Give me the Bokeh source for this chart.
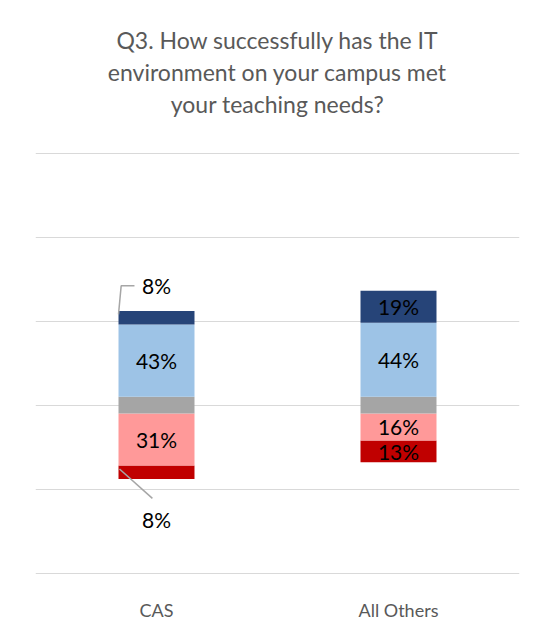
from bokeh.plotting import figure
from bokeh.models import Range1d, FixedTicker, Title, ColumnDataSource
from bokeh.core.properties import value
from bokeh.embed import file_html
from bokeh.resources import INLINE

categories = ["CAS", "All Others"]
strongly_neg = [8, 13]
negative = [31, 16]
neutral = [10, 10]
positive = [43, 44]
strongly_pos = [8, 19]
series_colors = ["#C00000", "#FF9999", "#A5A5A5", "#9DC3E6", "#264478"]
tick_values = [-100, -50, 0, 50, 100, 150]
title_lines = ["Q3. How successfully has the IT",
               "environment on your campus met",
               "your teaching needs?"]

FONT = "Lato"
xs = [i + 0.5 for i in range(len(categories))]
bar_w = 0.314

p = figure(width=543, height=632, x_range=Range1d(0, 2), y_range=Range1d(-105, 170.6),
           output_backend="svg", toolbar_location=None,
           min_border_left=35, min_border_right=24, min_border_top=118, min_border_bottom=51)
p.outline_line_color = None
p.background_fill_color = "white"
p.border_fill_color = "white"

# title lines: first added sits closest to the plot frame
for j, line in enumerate(reversed(title_lines)):
    p.add_layout(Title(text=line, align="center", text_font=FONT, text_font_size="23px",
                       text_font_style="normal", text_color="#595959",
                       standoff=2, offset=0), "above")

# stacked diverging bars
segments = []
for i in range(len(categories)):
    half = neutral[i] / 2.0
    segs = [
        (-half - negative[i] - strongly_neg[i], -half - negative[i], strongly_neg[i]),
        (-half - negative[i], -half, negative[i]),
        (-half, half, neutral[i]),
        (half, half + positive[i], positive[i]),
        (half + positive[i], half + positive[i] + strongly_pos[i], strongly_pos[i]),
    ]
    segments.append(segs)

for k, color in enumerate(series_colors):
    src = ColumnDataSource(dict(x=xs,
                                bottom=[segments[i][k][0] for i in range(len(categories))],
                                top=[segments[i][k][1] for i in range(len(categories))]))
    p.vbar(x="x", width=bar_w, bottom="bottom", top="top", source=src,
           fill_color=color, line_color=None)

# data labels
lx, ly, lt = [], [], []
for i in range(len(categories)):
    for k in [0, 1, 3, 4]:
        b, t, v = segments[i][k]
        if v < 10:
            continue
        lx.append(xs[i]); ly.append((b + t) / 2.0); lt.append(f"{v}%")
p.text(x=lx, y=ly, text=lt, text_align="center", text_baseline="middle",
       text_font=value(FONT), text_font_size="21px", text_color="#000000")

# outside labels with leader lines for small CAS segments
b0, t0, v0 = segments[0][4]
x_left = xs[0] - bar_w / 2
p.line(x=[x_left, x_left + 0.011, x_left + 0.066], y=[t0 - 2, t0 + 15, t0 + 15],
       line_color="#A6A6A6", line_width=1.5)
p.text(x=[xs[0]], y=[t0 + 15], text=[f"{v0}%"], text_align="center", text_baseline="middle",
       text_font=value(FONT), text_font_size="21px", text_color="#000000")

b1, t1, v1 = segments[0][0]
p.line(x=[x_left + 0.004, xs[0] - 0.017], y=[(b1 + t1) / 2 + 2, b1 - 11.5],
       line_color="#A6A6A6", line_width=1.5)
p.text(x=[xs[0]], y=[b1 - 24], text=[f"{v1}%"], text_align="center", text_baseline="middle",
       text_font=value(FONT), text_font_size="21px", text_color="#000000")

# axes & grid
p.yaxis.visible = False
p.ygrid.ticker = FixedTicker(ticks=tick_values)
p.ygrid.grid_line_color = "#D9D9D9"
p.ygrid.grid_line_width = 1
p.xgrid.grid_line_color = None

p.xaxis.ticker = FixedTicker(ticks=xs)
p.xaxis.major_label_overrides = {x: c for x, c in zip(xs, categories)}
p.xaxis.axis_line_color = None
p.xaxis.major_tick_line_color = None
p.xaxis.minor_tick_line_color = None
p.xaxis.major_label_standoff = 11
p.xaxis.major_label_text_font = FONT
p.xaxis.major_label_text_font_size = "18px"
p.xaxis.major_label_text_color = "#595959"

open("out.html", "w").write(file_html(p, INLINE))
